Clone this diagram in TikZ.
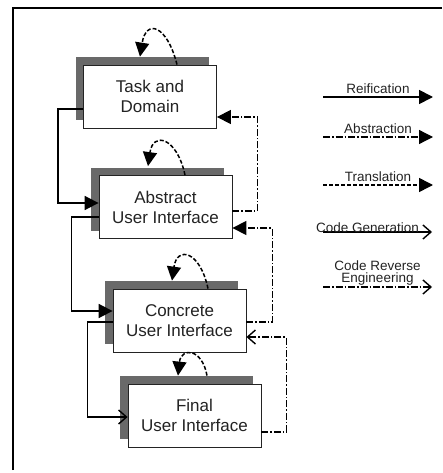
\documentclass[tikz,border=0pt]{standalone}
\usepackage{fontspec}
\setmainfont{Liberation Sans}
\usepackage{tikz}
\usetikzlibrary{arrows.meta}
\usetikzlibrary{shadows}
\definecolor{shade}{RGB}{105,105,105}
\definecolor{ink}{RGB}{35,35,35}
\tikzstyle{fullhead}=[>/.tip={Triangle[length=14pt,width=14pt]}]
\tikzstyle{openhead}=[>/.tip={Straight Barb[length=8pt,width=14pt,line width=1.4pt]}]
\tikzstyle{rf}=[line width=1.7pt,fullhead,->]
\tikzstyle{ab}=[line width=1.3pt,fullhead,->,dash pattern=on 7pt off 2pt on 1.5pt off 2pt]
\tikzstyle{tr}=[line width=1.5pt,fullhead,->,dash pattern=on 4pt off 2pt]
\tikzstyle{cg}=[line width=1.7pt,openhead,->]
\tikzstyle{cr}=[line width=1.3pt,openhead,->,dash pattern=on 7pt off 2pt on 1.5pt off 2pt]
\tikzstyle{ui}=[draw=ink,line width=.8pt,fill=white,minimum width=133pt,minimum height=63pt,align=center,text=ink,font=\fontsize{17}{20}\selectfont,general shadow={fill=shade,shadow xshift=-8pt,shadow yshift=8pt}]
\tikzstyle{lgd}=[font=\fontsize{13.5}{12}\selectfont,text=ink,align=center]

\begin{document}
\begin{tikzpicture}[x=1pt,y=-1pt]
	\useasboundingbox (0,0) rectangle (442,473);
	\draw[line width=2.5pt] (13,470) |- (442,8);
	% the four levels
	\node[ui] (task) at (150,96.5)  {Task and\\Domain};
	\node[ui] (aui)  at (165.5,207) {Abstract\\User Interface};
	\node[ui] (cui)  at (179.5,320.5) {Concrete\\User Interface};
	\node[ui] (fui)  at (194.5,415.5) {Final\\User Interface};
	% going down
	\draw[rf] ([yshift=-12.5pt]task.west) -- ++(-25,0) |- ([yshift=4pt]aui.west);
	\draw[rf] ([yshift=-10pt]aui.west) -- ++(-27,0) |- ([yshift=9.5pt]cui.west);
	\draw[cg] ([yshift=-1.5pt]cui.west) -- ++(-25,0) |- ([yshift=-1.5pt]fui.west);
	% going up
	\draw[ab] ([yshift=-4pt]aui.east) -- ++(25,0) |- ([yshift=-20.5pt]task.east);
	\draw[ab] ([yshift=-1.5pt]cui.east) -- ++(26,0) |- ([yshift=-21pt]aui.east);
	\draw[cr] ([yshift=-16.5pt]fui.east) -- ++(25,0) |- ([yshift=-16.5pt]cui.east);
	% translations
	\draw[tr] ([xshift=27pt]task.north) .. controls +(-10,-40) and +(6,-38) .. ([xshift=-10pt,yshift=8pt]task.north);
	\draw[tr] ([xshift=19.5pt]aui.north) .. controls +(-8,-38) and +(5,-35) .. ([xshift=-17.5pt,yshift=9pt]aui.north);
	\draw[tr] ([xshift=28.5pt]cui.north) .. controls +(-8,-38) and +(5,-35) .. ([xshift=-7.5pt,yshift=8pt]cui.north);
	\draw[tr] ([xshift=12.5pt,yshift=8pt]fui.north) .. controls +(-5,-28) and +(3,-28) .. ([xshift=-16.5pt,yshift=8pt]fui.north);
	% legend
	\coordinate (rfa) at (323,97);  \coordinate (rfb) at (433,97);
	\coordinate (aba) at (323,137); \coordinate (abb) at (433,137);
	\coordinate (tra) at (323,185); \coordinate (trb) at (433,185);
	\coordinate (cga) at (323,232); \coordinate (cgb) at (432,232);
	\coordinate (cra) at (323,287); \coordinate (crb) at (432,287);
	\draw[rf] (rfa) -- node[lgd,above=-1pt] {Reification} (rfb);
	\draw[ab] (aba) -- node[lgd,above=-1pt] {Abstraction} (abb);
	\draw[tr] (tra) -- node[lgd,above=-1pt] {Translation} (trb);
	\draw[cg] (cga) -- node[lgd,above=-5pt,xshift=-10pt] {Code Generation} (cgb);
	\draw[cr] (cra) -- node[lgd,above=-2pt] {Code Reverse\\Engineering} (crb);
\end{tikzpicture}
\end{document}
